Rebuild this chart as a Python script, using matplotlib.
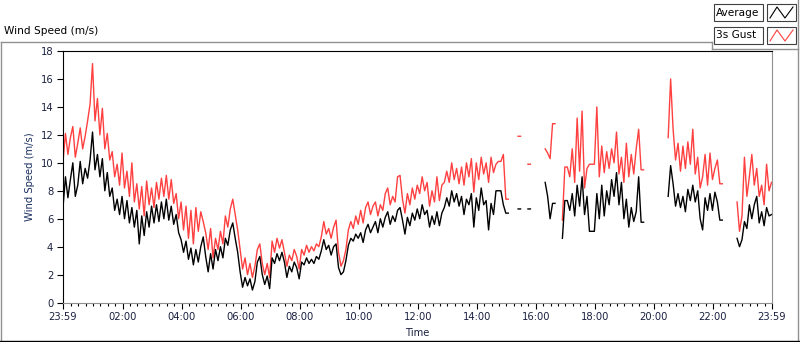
import numpy as np
from matplotlib import pyplot as plt
from matplotlib.lines import Line2D
from matplotlib.patches import Rectangle

nan = np.nan

# minutes after 23:59, one value every 5 minutes
minutes = list(range(0, 1441, 5))

average = [
    6.8, 9.0, 7.5, 8.8, 10.0, 7.6, 8.4, 10.1, 8.5, 9.6, 8.9, 10.2,
    12.2, 9.5, 10.6, 9.0, 10.3, 8.0, 9.3, 7.6, 8.2, 6.6, 7.4, 6.3,
    7.6, 6.0, 7.3, 5.7, 6.8, 5.4, 6.6, 4.2, 6.2, 4.8, 6.5, 5.4,
    6.9, 5.7, 7.0, 5.8, 7.2, 6.0, 7.4, 5.9, 6.9, 5.6, 6.3, 5.0,
    4.5, 3.6, 4.4, 3.1, 3.9, 2.7, 3.8, 2.9, 4.0, 4.7, 3.3, 2.2,
    3.5, 2.4, 3.8, 3.0, 4.0, 3.2, 4.6, 4.1, 5.2, 5.7, 4.6, 3.6,
    2.2, 1.1, 1.8, 1.2, 1.7, 0.9, 1.5, 2.9, 3.3, 2.0, 1.3, 1.9,
    1.0, 3.2, 2.8, 3.5, 3.0, 3.6, 2.9, 1.8, 2.6, 2.2, 2.9, 2.5,
    1.7, 2.9, 2.7, 3.2, 2.8, 3.1, 2.8, 3.3, 3.1, 3.7, 4.5, 3.8,
    4.1, 3.4, 4.0, 4.2, 2.5, 2.0, 2.2, 3.0, 4.1, 4.6, 4.4, 4.9,
    4.6, 5.0, 4.3, 5.2, 5.6, 5.0, 5.4, 5.8, 5.0, 6.0, 5.4, 6.1,
    6.5, 5.6, 6.2, 5.8, 6.6, 6.8, 5.9, 4.9, 6.1, 5.5, 6.4, 5.9,
    6.7, 6.0, 7.0, 6.3, 6.6, 5.4, 6.2, 5.6, 6.5, 5.5, 6.4, 6.8,
    7.5, 6.9, 8.0, 7.2, 7.8, 6.9, 7.6, 6.3, 7.4, 7.0, 7.8, 5.4,
    7.5, 6.6, 8.2, 7.0, 7.3, 5.2, 7.1, 6.3, 8.0, 8.0, 8.0, 7.0,
    6.4, 6.4, nan, nan, nan, 6.7, 6.7, nan, nan, 6.7, 6.7, nan,
    nan, nan, nan, nan, 8.6, 7.6, 6.0, 7.1, 7.1, nan, nan, 4.6,
    7.3, 7.3, 6.6, 7.8, 6.2, 8.4, 6.9, 9.0, 6.3, 7.6, 5.1, 5.1,
    5.1, 7.8, 6.0, 8.4, 6.2, 8.0, 7.0, 8.8, 7.6, 9.3, 7.0, 8.6,
    6.0, 7.4, 5.4, 6.8, 5.8, 6.5, 9.0, 5.75, 5.75, nan, nan, nan,
    nan, nan, nan, nan, nan, nan, 7.6, 9.8, 8.5, 6.9, 7.8, 6.8,
    7.6, 6.5, 8.1, 7.3, 8.4, 7.2, 8.0, 6.0, 5.2, 7.5, 6.6, 7.8,
    6.6, 7.9, 7.2, 5.9, 5.9, nan, nan, nan, nan, nan, 4.6, 4.0,
    4.5, 5.8, 5.3, 7.0, 6.0, 7.0, 7.6, 5.7, 6.5, 5.5, 6.8, 6.2,
    6.3,
]

gust = [
    10.1, 12.1, 10.6, 11.8, 12.6, 10.4, 11.4, 12.5, 11.0, 11.9, 13.0, 14.2,
    17.1, 13.0, 14.6, 12.0, 13.9, 11.0, 12.1, 10.2, 10.8, 9.0, 9.9, 8.4,
    10.7, 8.2, 9.4, 7.6, 10.0, 7.2, 8.5, 6.7, 8.3, 6.2, 8.7, 7.0,
    8.2, 6.8, 8.6, 7.4, 8.9, 7.6, 9.1, 7.4, 8.8, 7.1, 7.8, 6.0,
    7.2, 5.2, 6.9, 4.6, 6.6, 4.2, 6.8, 5.1, 6.5, 5.8, 5.0, 3.8,
    5.3, 3.2, 4.6, 3.8, 5.1, 4.2, 6.2, 5.4, 6.7, 7.4, 6.3, 5.2,
    3.8, 2.4, 3.2, 2.0, 2.8, 1.8, 2.6, 3.8, 4.2, 2.8, 2.0, 2.8,
    1.8, 4.4, 3.6, 4.6, 3.9, 4.5, 3.6, 2.6, 3.4, 3.0, 3.8, 3.3,
    2.4, 3.8, 3.4, 4.1, 3.6, 4.0, 3.7, 4.2, 4.0, 4.7, 5.8, 4.9,
    5.3, 4.6, 5.4, 5.9, 3.6, 2.6, 3.0, 3.8, 5.2, 5.8, 5.3, 6.2,
    5.6, 6.6, 5.7, 6.8, 7.2, 6.3, 6.9, 7.2, 6.2, 7.0, 6.6, 7.8,
    8.2, 7.0, 7.6, 7.2, 9.0, 9.1, 7.4, 6.4, 7.8, 7.0, 8.2, 7.4,
    8.4, 7.8, 9.0, 8.0, 8.6, 6.9, 8.0, 7.2, 9.0, 7.3, 8.4, 8.6,
    9.4, 8.6, 10.0, 8.8, 9.6, 8.5, 9.7, 8.4, 10.0, 9.0, 10.3, 7.9,
    10.0, 8.8, 10.4, 9.2, 10.0, 8.6, 10.4, 9.3, 9.9, 10.1, 10.1, 10.6,
    7.4, 7.4, nan, nan, nan, 11.9, 11.9, nan, nan, 9.9, 9.9, nan,
    nan, nan, nan, nan, 11.0, 10.7, 10.3, 12.8, 12.8, nan, nan, 5.9,
    9.7, 9.7, 9.0, 11.0, 8.6, 13.2, 9.4, 13.7, 8.2, 9.6, 9.9, 9.9,
    9.9, 14.0, 9.0, 11.2, 9.3, 10.8, 9.6, 11.0, 10.0, 12.2, 9.2, 10.4,
    8.6, 11.4, 9.0, 10.6, 9.2, 11.0, 12.4, 9.5, 9.5, nan, nan, nan,
    nan, nan, nan, nan, nan, nan, 11.8, 16.0, 12.4, 10.2, 11.4, 9.4,
    11.2, 9.6, 11.5, 9.9, 12.4, 9.2, 10.4, 8.2, 9.0, 10.6, 8.4, 10.7,
    8.8, 9.6, 10.2, 8.5, 8.5, nan, nan, nan, nan, nan, 7.2, 5.1,
    6.2, 10.4, 7.6, 9.0, 10.6, 8.4, 9.6, 7.6, 8.4, 7.0, 9.9, 8.0,
    8.6,
]

tick_minutes = [0] + list(range(121, 1440, 120)) + [1440]
tick_labels = ['23:59', '02:00', '04:00', '06:00', '08:00', '10:00', '12:00',
               '14:00', '16:00', '18:00', '20:00', '22:00', '23:59']
y_ticks = [0, 2, 4, 6, 8, 10, 12, 14, 16, 18]

plt.rcParams['font.family'] = 'DejaVu Sans'
W, H = 800, 342
fig = plt.figure(figsize=(8, 3.42), dpi=100)
fig.patch.set_facecolor('white')

def fx(px):
    return px / W

def fy(py):
    return 1 - py / H

ax = fig.add_axes([fx(63), fy(302.6), fx(771.5) - fx(63), fy(51) - fy(302.6)])
ax.plot(minutes, np.array(gust, dtype=float), color='#ff4040', lw=1.0)
ax.plot(minutes, np.array(average, dtype=float), color='black', lw=1.0)

ax.set_xlim(0, 1440)
ax.set_ylim(0, 18)
ax.set_xticks(tick_minutes)
ax.set_xticklabels(tick_labels)
ax.set_xticks([m for m in range(16, 1440, 15) if m not in tick_minutes], minor=True)
ax.set_yticks(y_ticks)
ax.tick_params(axis='both', which='major', labelsize=7.2, labelcolor='#1a2040',
               length=4, width=0.8, pad=3)
ax.tick_params(axis='x', which='minor', length=2.5, width=0.8)
ax.spines['left'].set_color('black')
ax.spines['top'].set_color('black')
ax.spines['right'].set_color('#909090')
ax.spines['bottom'].set_color('#909090')
ax.set_xlabel('Time', fontsize=7.2, color='#1a2040', labelpad=4)
ax.set_ylabel('Wind Speed (m/s)', fontsize=7.2, color='#1a3060', labelpad=4)

# outer panel frame
grey = '#909090'
fig.add_artist(Line2D([fx(0.5), fx(712)], [fy(42), fy(42)], color=grey, lw=1))
fig.add_artist(Line2D([fx(712), fx(712)], [fy(42), fy(49)], color=grey, lw=1))
fig.add_artist(Line2D([fx(712), fx(798)], [fy(49), fy(49)], color=grey, lw=1))
fig.add_artist(Line2D([fx(798), fx(798)], [fy(0), fy(342)], color=grey, lw=1))
fig.add_artist(Line2D([fx(0.5), fx(0.5)], [fy(42), fy(342)], color=grey, lw=1))
fig.add_artist(Line2D([fx(0), fx(800)], [fy(341), fy(341)], color='black', lw=1))

fig.text(fx(4), fy(31), 'Wind Speed (m/s)', fontsize=7.6, ha='left', va='center')

# legend boxes
for row, (name, col) in enumerate([('Average', 'black'), ('3s Gust', '#ff4040')]):
    top = 4 + row * 23
    fig.add_artist(Rectangle((fx(714), fy(top + 17)), fx(49), 17 / H,
                             facecolor='white', edgecolor='#404040', lw=0.8))
    fig.text(fx(715.5), fy(top + 8.5), name, fontsize=7.6, ha='left', va='center')
    fig.add_artist(Rectangle((fx(767), fy(top + 17)), fx(29), 17 / H,
                             facecolor='white', edgecolor='#404040', lw=0.8))
    zx = [770, 777, 785, 793]
    zy = [top + 14, top + 3, top + 14, top + 3]
    fig.add_artist(Line2D([fx(v) for v in zx], [fy(v) for v in zy], color=col, lw=0.8))

fig.savefig('out.png', dpi=100)
